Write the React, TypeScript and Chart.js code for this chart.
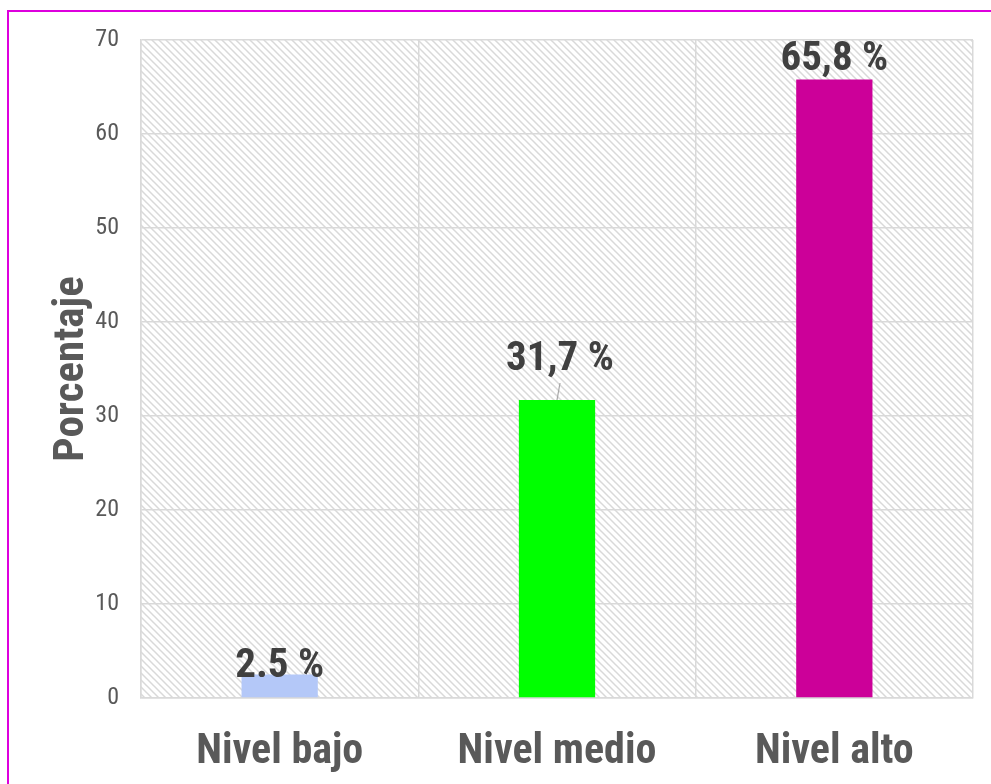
import React, { useEffect, useRef } from "react";
import { Chart, registerables } from "chart.js";

Chart.register(...registerables);

const categories = ["Nivel bajo", "Nivel medio", "Nivel alto"];
const values = [2.5, 31.7, 65.8];
const valueLabels = ["2.5 %", "31,7 %", "65,8 %"];
const yTicks = [0, 10, 20, 30, 40, 50, 60, 70];
const barColors = ["#b4c8f8", "#00ff00", "#cc0099"];

const FONT = "'Liberation Sans Narrow', 'Arial Narrow', 'Roboto Condensed', 'Liberation Sans', Arial, sans-serif";

function makePattern(ctx: CanvasRenderingContext2D) {
  const s = 7;
  const c = document.createElement("canvas");
  c.width = s;
  c.height = s;
  const g = c.getContext("2d")!;
  g.fillStyle = "#ffffff";
  g.fillRect(0, 0, s, s);
  g.strokeStyle = "#d9d9d9";
  g.lineWidth = 1.5;
  g.beginPath();
  g.moveTo(-1, -1);
  g.lineTo(s + 1, s + 1);
  g.moveTo(-1, s - 1);
  g.lineTo(1, s + 1);
  g.moveTo(s - 1, -1);
  g.lineTo(s + 1, 1);
  g.stroke();
  return ctx.createPattern(c, "repeat")!;
}

const hatchPlugin = {
  id: "hatch",
  beforeDraw(chart: any) {
    const { ctx, chartArea } = chart;
    ctx.save();
    ctx.fillStyle = makePattern(ctx);
    ctx.fillRect(chartArea.left, chartArea.top, chartArea.right - chartArea.left, chartArea.bottom - chartArea.top);
    ctx.restore();
  },
};

const labelShift = [2, -30, -9];

const labelPlugin = {
  id: "valueLabels",
  afterDatasetsDraw(chart: any) {
    const { ctx } = chart;
    const meta = chart.getDatasetMeta(0);
    ctx.save();
    ctx.font = `bold 41px ${FONT}`;
    ctx.fillStyle = "#404040";
    ctx.textAlign = "center";
    ctx.textBaseline = "alphabetic";
    meta.data.forEach((bar: any, i: number) => {
      const shift = labelShift[i];
      const x = i === 1 ? bar.x + 3 : bar.x;
      ctx.fillText(valueLabels[i], x, bar.y + shift);
      if (i === 1) {
        ctx.strokeStyle = "#a6a6a6";
        ctx.lineWidth = 1.2;
        ctx.beginPath();
        ctx.moveTo(bar.x + 3, bar.y + shift + 13);
        ctx.lineTo(bar.x, bar.y);
        ctx.stroke();
      }
    });
    ctx.restore();
  },
};

export default function App() {
  const ref = useRef<HTMLCanvasElement>(null);
  useEffect(() => {
    const chart = new Chart(ref.current!, {
      type: "bar",
      data: {
        labels: categories,
        datasets: [
          {
            data: values,
            backgroundColor: barColors,
            barPercentage: 0.55,
            categoryPercentage: 0.5,
          },
        ],
      },
      options: {
        animation: false,
        responsive: false,
        layout: { padding: { left: 0, top: 40, right: 18, bottom: 0 } },
        plugins: { legend: { display: false }, tooltip: { enabled: false } },
        scales: {
          x: {
            grid: { color: "#d9d9d9", lineWidth: 1.5, drawTicks: false, offset: true },
            border: { color: "#d9d9d9", width: 1.5 },
            ticks: {
              color: "#595959",
              font: { family: FONT, size: 42, weight: "bold" },
              padding: 29,
            },
            afterFit(scale: any) {
              scale.height = 86;
            },
          },
          y: {
            min: 0,
            max: 70,
            afterBuildTicks(scale: any) {
              scale.ticks = yTicks.map((v) => ({ value: v }));
            },
            grid: { color: "#d9d9d9", lineWidth: 1.5, drawTicks: false },
            border: { color: "#d9d9d9", width: 1.5 },
            ticks: {
              color: "#595959",
              font: { family: FONT, size: 24 },
              padding: 22,
            },
            title: {
              display: true,
              text: "Porcentaje",
              color: "#595959",
              font: { family: FONT, size: 43, weight: "bold" },
              padding: { top: 46, bottom: 0 },
            },
            afterFit(scale: any) {
              scale.width = 141;
            },
          },
        },
      },
      plugins: [hatchPlugin, labelPlugin],
    });
    return () => chart.destroy();
  }, []);
  return (
    <div style={{ position: "fixed", left: 0, top: 0, width: 991, height: 784, background: "#fff", overflow: "hidden" }}>
      <div
        style={{
          position: "absolute",
          left: 7,
          top: 10,
          width: 1010,
          height: 800,
          border: "2px solid #dd00dd",
          boxSizing: "border-box",
        }}
      />
      <canvas ref={ref} width={991} height={784} style={{ position: "absolute", left: 0, top: 0 }} />
    </div>
  );
}
